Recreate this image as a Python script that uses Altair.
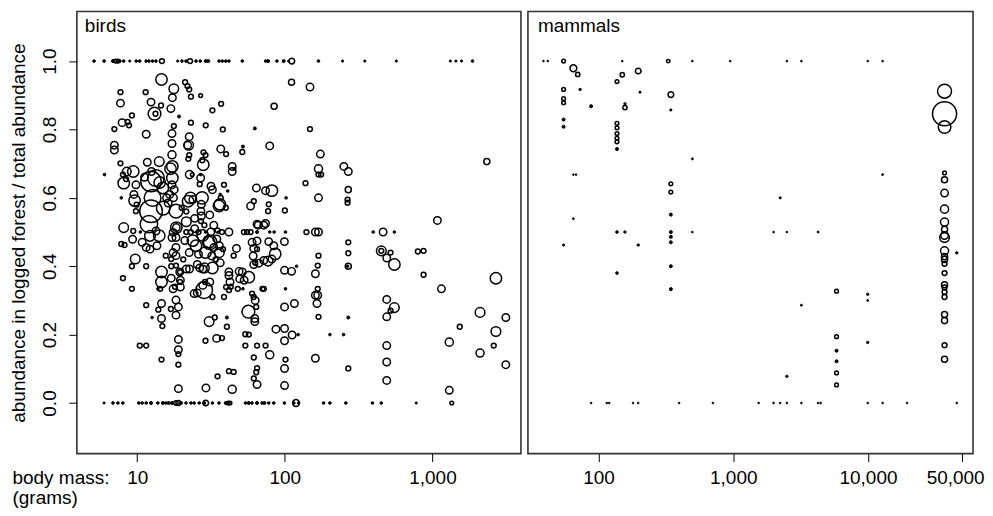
import altair as alt
import pandas as pd

FONT = "Liberation Sans"

# ---------------- birds ----------------
bird_top_mass = [5.1, 5.96, 6.85, 7.15, 7.4, 7.6, 8.1, 8.9, 9.85, 10.4, 11.5, 12.0, 12.7, 13.4,
                 14.7, 18.8, 20.1, 21.4, 22.8, 25.0, 26.7, 29.1, 30.3, 35.8, 37.7, 39.8, 41.8,
                 51.5, 74.1, 77.0, 88.4, 98.2, 106, 111.5, 169, 246, 348, 569, 1321, 1442, 1574, 1867]
bird_top_n = [1.5, 1.5, 2, 3, 3, 2, 1.5, 1, 1.5, 1.5, 1.5, 1.5, 1.5, 1.5,
              5, 1, 1.5, 1.5, 5, 1.5, 1.5, 2, 2, 1.5, 1.5, 1.5, 1.5,
              1.5, 1.5, 2, 1.5, 2, 1, 7, 1.5, 1, 1, 1, 1, 1, 1, 1.5]

bird_zero_mass = [5.96, 6.85, 7.4, 7.99, 10.25, 10.8, 11.5, 12.4, 13.8, 14.9, 15.6, 16.3, 17.2,
                  18.3, 19.0, 19.8, 21.4, 23.1, 24.3, 26.3, 28.4, 29.1, 32.3, 35.8, 39.8, 41.3,
                  42.5, 54.1, 57.0, 59.9, 64.8, 70.1, 72.7, 77.8, 84.1, 99.3, 115, 119, 124,
                  183, 202, 259, 392, 450, 776, 1350]
bird_zero_n = [1, 1.5, 1.5, 1.5, 1.5, 1.5, 1.5, 2, 1.5, 2, 1.5, 2, 2,
               4, 5, 2, 1.5, 1.5, 1.5, 1.5, 2, 7, 1.5, 1.5, 2, 3,
               3, 1.5, 2, 1.5, 2, 1.5, 2, 1.5, 1.5, 1.5, 1.5, 10, 1.5,
               1.5, 1.5, 1.5, 1.5, 1.5, 1, 3]

# (body mass g, share in logged forest, total abundance)
birds_upper = [
    (14.6, 0.946, 28), (17.7, 0.919, 20), (21.1, 0.938, 5), (21.9, 0.927, 5), (22.5, 0.917, 5),
    (23.1, 0.896, 5), (26.9, 0.899, 3), (7.7, 0.909, 5), (7.7, 0.877, 12), (9.2, 0.841, 5),
    (7.9, 0.820, 12), (8.6, 0.822, 5), (8.8, 0.812, 5), (7.0, 0.801, 5), (11.4, 0.909, 5),
    (12.4, 0.880, 12), (13.1, 0.846, 35), (13.3, 0.846, 5), (11.5, 0.786, 12), (14.5, 0.870, 5),
    (16.9, 0.861, 12), (17.3, 0.893, 12), (19.2, 0.838, 2), (17.7, 0.810, 5), (17.2, 0.788, 12),
    (17.2, 0.759, 12), (17.2, 0.726, 14), (22.5, 0.779, 12), (22.3, 0.754, 20), (23.1, 0.820, 5),
    (29.1, 0.812, 5), (32.3, 0.856, 5), (37.0, 0.875, 5), (38.0, 0.800, 5), (28.1, 0.733, 5),
    (29.0, 0.725, 5), (36.8, 0.743, 12), (40.0, 0.728, 5), (44.0, 0.692, 12), (44.0, 0.677, 12),
    (45.5, 0.685, 2), (51.5, 0.734, 5), (52.0, 0.750, 2), (62.6, 0.803, 2), (79.0, 0.752, 12),
    (84.6, 0.868, 8), (111, 0.938, 8), (148, 0.924, 12), (148, 0.801, 5), (174, 0.728, 12),
    (22.0, 0.754, 12), (22.5, 0.725, 5), (22.2, 0.714, 5), (7.0, 0.754, 12), (7.0, 0.740, 12),
    (14.1, 0.706, 20), (11.7, 0.704, 12), (7.7, 0.701, 5), (2334, 0.706, 8), (27.6, 0.710, 5),
]

birds_middle = [
    (169, 0.685, 14), (169, 0.668, 5), (176, 0.668, 5), (138, 0.643, 5), (169, 0.600, 12),
    (251, 0.692, 12), (269, 0.677, 12), (269, 0.624, 8), (266, 0.595, 5), (266, 0.586, 5),
    (1080, 0.534, 12), (397, 0.5, 1.5), (463, 0.5, 12), (552, 0.5, 1.5), (269, 0.470, 5),
    (450, 0.445, 20), (450, 0.445, 5), (140, 0.5, 5), (161, 0.5, 12), (169, 0.5, 12),
    (101, 0.5, 1.5), (102, 0.6, 1.5), (100, 0.563, 5), (77.8, 0.581, 5), (74.0, 0.621, 12),
    (81.7, 0.621, 28), (64.2, 0.629, 12), (61.6, 0.590, 5), (58.6, 0.576, 12), (64.8, 0.523, 12),
    (74.0, 0.525, 12), (77.0, 0.561, 5), (52.8, 0.5, 5), (55.5, 0.5, 5), (58.6, 0.5, 5),
    (64.8, 0.5, 2), (77.8, 0.472, 12), (84.1, 0.460, 12), (99.3, 0.472, 12), (60.0, 0.470, 12),
    (61.6, 0.452, 12), (41.8, 0.5, 12), (37.5, 0.5, 5), (35.5, 0.5, 1.5), (36.8, 0.600, 5),
    (36.5, 0.610, 1.5), (39.8, 0.571, 5), (38.7, 0.638, 5), (32.3, 0.624, 12), (35.8, 0.576, 28),
    (41.0, 0.620, 1.5), (26.9, 0.668, 1.5), (26.9, 0.658, 12), (28.0, 0.697, 28), (22.6, 0.668, 14),
    (23.6, 0.668, 3), (22.9, 0.600, 28), (23.8, 0.595, 12), (22.1, 0.590, 28), (27.5, 0.600, 33),
    (26.5, 0.640, 5), (27.0, 0.561, 12), (27.2, 0.547, 12), (27.0, 0.532, 5), (27.2, 0.581, 12),
    (31.6, 0.634, 12), (36.3, 0.581, 28), (17.3, 0.692, 28), (16.8, 0.685, 28), (17.3, 0.658, 28),
    (17.2, 0.638, 12), (17.8, 0.624, 12), (16.6, 0.610, 12), (17.6, 0.600, 12), (18.3, 0.561, 40),
    (20.0, 0.571, 5), (21.5, 0.560, 5), (18.4, 0.513, 28), (18.4, 0.513, 12), (17.5, 0.499, 12),
    (17.2, 0.484, 12), (15.8, 0.600, 12), (16.2, 0.585, 12), (14.2, 0.645, 28), (14.9, 0.629, 28),
    (11.2, 0.660, 12), (12.5, 0.677, 12), (12.2, 0.489, 25), (13.4, 0.503, 12), (14.1, 0.489, 28),
    (13.6, 0.460, 12), (11.5, 0.455, 12), (8.1, 0.643, 28), (8.5, 0.677, 16), (9.4, 0.677, 28),
    (9.8, 0.638, 12), (9.6, 0.592, 28), (9.5, 0.610, 12), (9.9, 0.580, 5), (9.8, 0.561, 5),
    (8.0, 0.668, 5), (8.4, 0.655, 5), (6.0, 0.668, 1.5), (7.8, 0.600, 1.5), (8.1, 0.513, 20),
    (7.8, 0.465, 5), (9.4, 0.503, 5), (9.3, 0.479, 12), (10.5, 0.5, 1.5), (10.8, 0.470, 12),
    (18.3, 0.484, 12), (18.3, 0.455, 12), (23.8, 0.475, 28), (25.0, 0.460, 28), (27.8, 0.490, 28),
    (30.7, 0.470, 28), (33.0, 0.455, 12), (34.6, 0.480, 12), (36.0, 0.460, 12), (38.1, 0.450, 5),
    (21.0, 0.475, 12), (31.5, 0.5, 12), (35.0, 0.505, 5), (24.5, 0.510, 12), (28.5, 0.520, 5),
    (21.5, 0.5, 5), (23.0, 0.5, 5), (26.0, 0.5, 5), (29.0, 0.5, 1.5), (33.0, 0.520, 12),
    (31.0, 0.550, 12), (24.5, 0.540, 12), (21.5, 0.530, 20), (47.0, 0.452, 12), (64.8, 0.474, 12),
    (66.0, 0.520, 12), (72.0, 0.520, 12), (12.2, 0.450, 12), (8.2, 0.462, 5), (84.6, 0.5, 1.5),
    (79.0, 0.5, 1.5),
]

birds_lower = [
    (9.7, 0.421, 20), (9.2, 0.400, 5), (8.0, 0.365, 5), (9.2, 0.334, 5), (11.5, 0.400, 5),
    (14.6, 0.383, 28), (14.6, 0.354, 28), (13.8, 0.334, 1.5), (14.3, 0.334, 5), (11.5, 0.286, 5),
    (14.6, 0.291, 12), (13.9, 0.273, 5), (16.9, 0.275, 5), (14.6, 0.247, 12), (14.8, 0.225, 5),
    (12.6, 0.250, 1.5), (17.0, 0.365, 12), (17.5, 0.334, 12), (18.0, 0.340, 5), (18.3, 0.301, 12),
    (19.0, 0.281, 12), (18.3, 0.257, 12), (17.0, 0.400, 5), (17.0, 0.421, 5), (17.5, 0.440, 12),
    (21.5, 0.392, 12), (19.5, 0.383, 5), (19.5, 0.354, 5), (19.0, 0.186, 12), (19.0, 0.156, 12),
    (19.0, 0.143, 5), (19.0, 0.112, 5), (19.0, 0.042, 12), (11.5, 0.168, 5), (10.4, 0.168, 5),
    (14.6, 0.127, 5), (24.3, 0.320, 12), (30.7, 0.238, 20), (33.5, 0.250, 5), (29.0, 0.182, 5),
    (34.5, 0.189, 12), (29.2, 0.044, 12), (35.0, 0.078, 5), (26.5, 0.395, 12), (28.5, 0.395, 20),
    (32.3, 0.395, 28), (31.0, 0.354, 12), (28.8, 0.354, 5), (32.3, 0.310, 5), (41.8, 0.330, 5),
    (40.0, 0.339, 5), (42.5, 0.354, 12), (41.8, 0.373, 12), (41.8, 0.383, 12), (38.7, 0.310, 5),
    (40.5, 0.250, 2), (40.5, 0.223, 5), (41.8, 0.093, 5), (44.0, 0.040, 14), (51.5, 0.383, 12),
    (53.0, 0.359, 12), (57.0, 0.368, 28), (52.0, 0.334, 1.5), (61.0, 0.430, 12), (61.6, 0.405, 12),
    (63.0, 0.410, 5), (60.0, 0.320, 5), (61.5, 0.310, 5), (63.0, 0.300, 12), (64.0, 0.281, 5),
    (62.6, 0.247, 12), (62.6, 0.238, 12), (54.0, 0.201, 5), (54.0, 0.168, 5), (64.8, 0.168, 5),
    (61.6, 0.133, 5), (64.8, 0.102, 5), (64.0, 0.090, 5), (61.6, 0.072, 5), (64.8, 0.054, 12),
    (74.0, 0.168, 5), (79.0, 0.141, 14), (72.0, 0.417, 12), (77.0, 0.415, 20), (86.0, 0.436, 28),
    (70.5, 0.334, 5), (72.0, 0.334, 5), (87.0, 0.216, 12), (99.5, 0.218, 12), (99.5, 0.182, 12),
    (101, 0.127, 5), (99.5, 0.101, 12), (99.5, 0.051, 12), (101, 0.334, 1.5), (99.5, 0.281, 12),
    (112, 0.199, 12), (123, 0.200, 1.5), (116, 0.291, 12), (111, 0.385, 12), (99.5, 0.388, 12),
    (120, 0.400, 1.5), (161, 0.378, 12), (167, 0.402, 5), (169, 0.431, 5), (167, 0.334, 5),
    (161, 0.315, 12), (167, 0.315, 12), (165, 0.291, 12), (169, 0.252, 5), (161, 0.131, 12),
    (202, 0.200, 1.5), (250, 0.200, 1.5), (269, 0.400, 8), (266, 0.400, 1.5), (269, 0.250, 2),
    (269, 0.101, 5), (269, 0.438, 5), (796, 0.443, 5), (490, 0.424, 12), (552, 0.405, 28),
    (520, 0.440, 5), (870, 0.445, 5), (870, 0.375, 5), (1150, 0.334, 12), (2690, 0.365, 28),
    (490, 0.303, 12), (552, 0.279, 20), (520, 0.270, 5), (490, 0.252, 12), (2100, 0.265, 20),
    (3140, 0.250, 12), (1530, 0.223, 5), (2690, 0.209, 20), (2600, 0.168, 5), (1300, 0.178, 14),
    (2100, 0.146, 14), (3140, 0.112, 12), (490, 0.168, 12), (490, 0.120, 12), (490, 0.066, 12),
    (1300, 0.037, 12), (57.0, 0.200, 5), (45.0, 0.091, 5), (37.5, 0.190, 5), (48.0, 0.334, 5),
    (43.0, 0.340, 5), (66.6, 0.409, 12), (81.7, 0.421, 12), (64.8, 0.450, 5), (49.0, 0.385, 12),
    (49.5, 0.363, 12), (45.0, 0.431, 5), (18.3, 0.431, 12), (18.3, 0.402, 5), (19.4, 0.383, 12),
    (19.6, 0.359, 12), (19.6, 0.339, 12), (22.6, 0.392, 12), (27.8, 0.392, 12), (27.8, 0.344, 12),
    (25.5, 0.322, 12), (15.6, 0.431, 5), (29.0, 0.440, 28), (26.0, 0.435, 12), (22.5, 0.440, 12),
    (32.0, 0.430, 12), (34.0, 0.420, 5), (20.5, 0.420, 5), (25.5, 0.405, 12), (36.5, 0.410, 12),
    (36.0, 0.440, 20),
]

birds_large = [
    (12.4, 0.648, 90), (13.4, 0.658, 60), (12.7, 0.600, 60), (12.4, 0.561, 110),
    (12.0, 0.523, 65), (15.0, 0.570, 40), (28.4, 0.330, 60), (56.6, 0.267, 35), (31.0, 0.470, 45),
]

# ---------------- mammals ----------------
mammal_top_mass = [39, 42, 55, 150, 329, 497, 949, 2497, 3204, 9950, 12830]
mammal_top_n = [0.6, 0.6, 3, 0.6, 2.5, 0.6, 0.6, 0.6, 0.6, 0.6, 0.6]

mammal_zero_mass = [88, 115, 120, 180, 197, 396, 706, 1543, 1990, 2230, 2497, 3204,
                    4260, 4450, 9950, 12830, 19500, 45600]

mammals_scattered = [
    (55, 0.917, 3), (55, 0.890, 3), (55, 0.878, 3), (55, 0.829, 2), (55, 0.808, 2), (55, 0.462, 1),
    (65, 0.979, 10), (70, 0.961, 4), (73, 0.917, 1.2), (88, 0.868, 2), (65, 0.668, 0.6),
    (68, 0.668, 0.6), (65, 0.539, 0.8), (137, 0.940, 3), (137, 0.818, 3), (137, 0.805, 3),
    (137, 0.788, 3), (137, 0.774, 3), (137, 0.764, 3), (137, 0.743, 2), (137, 0.500, 1.5),
    (137, 0.380, 1.5), (150, 0.960, 4), (157, 0.875, 1.2), (157, 0.864, 4), (157, 0.500, 1.2),
    (197, 0.971, 7), (197, 0.462, 1.2), (203, 0.909, 1), (344, 0.902, 7), (344, 0.857, 1),
    (344, 0.641, 3), (344, 0.617, 3), (344, 0.551, 2), (344, 0.500, 2), (344, 0.486, 2),
    (344, 0.470, 2), (344, 0.400, 2), (344, 0.333, 2), (497, 0.714, 0.8), (497, 0.500, 0.6),
    (2230, 0.600, 1), (1990, 0.500, 0.6), (2497, 0.500, 0.6), (2497, 0.078, 1.2), (3204, 0.286, 0.8),
    (4260, 0.500, 0.8), (5840, 0.327, 3), (5840, 0.194, 3), (5840, 0.153, 2), (5840, 0.122, 2),
    (5840, 0.088, 3), (5840, 0.053, 3), (9950, 0.318, 1.2), (9950, 0.300, 0.8), (9950, 0.177, 1.2),
    (12830, 0.668, 0.8), (45600, 0.439, 1.2),
]

mammals_large_column = [
    (37000, 0.912, 42), (37000, 0.846, 125), (37000, 0.807, 34), (37000, 0.673, 3),
    (37000, 0.653, 8), (37000, 0.614, 12), (37000, 0.567, 14), (37000, 0.529, 14),
    (37000, 0.508, 8), (37000, 0.484, 20), (37000, 0.490, 12), (37000, 0.445, 14),
    (37000, 0.428, 8), (37000, 0.420, 8), (37000, 0.407, 5), (37000, 0.380, 5),
    (37000, 0.346, 8), (37000, 0.338, 5), (37000, 0.325, 5), (37000, 0.310, 5),
    (37000, 0.259, 8), (37000, 0.241, 8), (37000, 0.169, 5), (37000, 0.128, 8),
]


def frame(top_mass, top_n, zero_mass, zero_n, *groups):
    rows = [(m, 1.0, n) for m, n in zip(top_mass, top_n)]
    rows += [(m, 0.0, n) for m, n in zip(zero_mass, zero_n)]
    for g in groups:
        rows += list(g)
    return pd.DataFrame(rows, columns=["mass", "share", "n"])


birds_df = frame(bird_top_mass, bird_top_n, bird_zero_mass, bird_zero_n,
                 birds_upper, birds_middle, birds_lower, birds_large)
mammals_df = frame(mammal_top_mass, mammal_top_n, mammal_zero_mass,
                   [0.6] * len(mammal_zero_mass), mammals_scattered, mammals_large_column)

Y_DOMAIN = [-0.148, 1.145]
PANEL_H = 443
DOT_LIMIT = 2.2
size_scale = alt.Scale(type="linear", domain=[0, 150], range=[0, 700], zero=True)


def x_axis(ticks, with_title):
    kw = dict(values=ticks, format=",", grid=False, domain=False, tickSize=8,
              tickColor="black", tickWidth=1, labelColor="black", labelFont=FONT,
              labelFontSize=19, labelPadding=7, labelFlush=False, labelOverlap=False,
              labelBaseline="top", labelAlign="center",
              labelOffset={"condition": {"test": "datum.value >= 50000", "value": -7},
                           "value": 0})
    if with_title:
        kw.update(title=["body mass:", "(grams)"], titleX=-65, titleY=30, titleAlign="left",
                  titleBaseline="alphabetic", titleAngle=0, titleFont=FONT, titleFontSize=19,
                  titleFontWeight="normal", titleColor="black", titleLineHeight=20)
    return alt.Axis(**kw)


def panel(df, xdom, ticks, width, label, label_x, y_axis, with_title):
    x_enc = alt.X("mass:Q", scale=alt.Scale(type="log", domain=xdom, nice=False),
                  axis=x_axis(ticks, with_title))
    if not with_title:
        x_enc = alt.X("mass:Q", scale=alt.Scale(type="log", domain=xdom, nice=False),
                      axis=x_axis(ticks, False), title=None)
    y_enc = alt.Y("share:Q", scale=alt.Scale(domain=Y_DOMAIN, nice=False, zero=False),
                  axis=y_axis, title="abundance in logged forest / total abundance")
    size_enc = alt.Size("n:Q", scale=size_scale, legend=None)
    base = alt.Chart(df)
    rings = base.transform_filter(f"datum.n > {DOT_LIMIT}").mark_point(
        shape="circle", filled=False, color="black", strokeWidth=1.5, opacity=1
    ).encode(x=x_enc, y=y_enc, size=size_enc)
    dots = base.transform_filter(f"datum.n <= {DOT_LIMIT}").mark_point(
        shape="circle", filled=True, color="black", stroke="black", strokeWidth=1, opacity=1
    ).encode(x=x_enc, y=y_enc, size=size_enc)
    txt = alt.Chart(pd.DataFrame({"t": [label]})).mark_text(
        align="left", baseline="alphabetic", fontSize=19, font=FONT, color="black"
    ).encode(x=alt.value(label_x), y=alt.value(21), text="t:N")
    return alt.layer(rings, dots, txt).properties(width=width, height=PANEL_H)


bird_y_axis = alt.Axis(values=[0, 0.2, 0.4, 0.6, 0.8, 1.0], format=".1f", grid=False,
                       domain=False, tickSize=8, tickColor="black", tickWidth=1,
                       labelColor="black", labelFont=FONT, labelFontSize=19, labelAngle=270,
                       labelAlign="center", labelBaseline="alphabetic", labelPadding=13,
                       labelFlush=False, labelOverlap=False, titleX=-52, titleY=PANEL_H / 2,
                       titleAngle=270, titleAlign="center", titleBaseline="alphabetic",
                       titleFont=FONT, titleFontSize=19, titleFontWeight="normal",
                       titleColor="black")

birds = panel(birds_df, [3.9, 3975], [10, 100, 1000], 445, "birds", 8, bird_y_axis, True)
mammals = panel(mammals_df, [29.9, 60200], [100, 1000, 10000, 50000], 446, "mammals", 10,
                None, False)

chart = alt.hconcat(birds, mammals, spacing=5).properties(
    padding={"left": 1, "top": 2, "right": 0, "bottom": 0}
).configure_view(stroke="#333333", strokeWidth=1.6)

chart.save("out.html", embed_options={"renderer": "svg", "actions": False})
